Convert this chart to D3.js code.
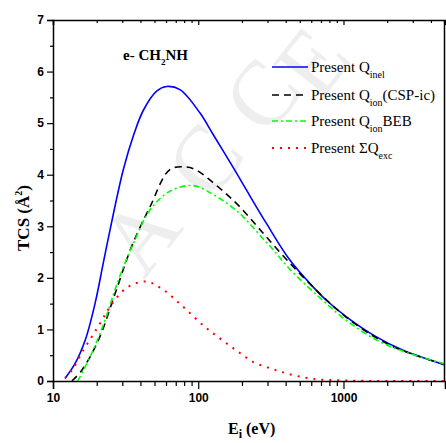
<!DOCTYPE html>
<html>
<head>
<meta charset="utf-8">
<script src="https://cdn.jsdelivr.net/npm/d3@7"></script>
<style>
  body { margin: 0; background: #fff; }
  svg { display: block; }
</style>
</head>
<body>
<svg id="chart" width="446" height="443"></svg>
<script>
// data
const inelE = [12.1, 14.2, 16.7, 19.5, 22.2, 24.7, 30.5, 36, 41.9, 51.7, 60.5, 74.8, 102.6, 126, 165, 214, 294, 426, 615, 759, 1042, 1675, 2550, 5000];
const inelV = [0.05, 0.34, 0.80, 1.51, 2.29, 2.93, 4.1, 4.78, 5.25, 5.62, 5.71, 5.65, 5.20, 4.79, 4.25, 3.71, 3.06, 2.35, 1.83, 1.57, 1.25, 0.86, 0.60, 0.31];

const cspE = [13.5, 15.8, 20.6, 26.8, 34.8, 46.6, 63.8, 83, 97, 126, 160, 193, 279, 426, 684, 1042, 1675, 2550, 5000];
const cspV = [0, 0.21, 0.80, 1.70, 2.61, 3.38, 4.10, 4.15, 4.09, 3.85, 3.60, 3.38, 2.87, 2.29, 1.70, 1.24, 0.84, 0.59, 0.32];

const bebE = [14.8, 18.5, 22.8, 28.2, 35.8, 46.6, 63.8, 92, 126, 160, 193, 226, 279, 327, 426, 684, 1042, 1675, 2550, 5000];
const bebV = [0, 0.54, 1.18, 1.96, 2.67, 3.32, 3.68, 3.79, 3.62, 3.43, 3.25, 3.05, 2.76, 2.55, 2.17, 1.62, 1.18, 0.80, 0.58, 0.33];

const excE = [12.1, 13.5, 16.2, 19.5, 22.8, 24.7, 29.8, 34.8, 44, 57.4, 78.7, 111, 145, 188, 238, 310, 404, 600, 1000, 2000, 5000];
const excV = [0.06, 0.21, 0.6, 0.96, 1.28, 1.44, 1.73, 1.86, 1.93, 1.77, 1.44, 1.05, 0.80, 0.57, 0.37, 0.25, 0.15, 0.045, 0.01, 0, 0];

const xTicks = [10, 100, 1000];
const yTicks = [0, 1, 2, 3, 4, 5, 6, 7];

const series = [
  { name: 'inel', sub: 'inel', tail: '', e: inelE, v: inelV, color: '#0000ff', dash: null },
  { name: 'csp', sub: 'ion', tail: '(CSP-ic)', e: cspE, v: cspV, color: '#000000', dash: '7,5' },
  { name: 'beb', sub: 'ion', tail: 'BEB', e: bebE, v: bebV, color: '#00ff00', dash: '6,3,2,3' },
  { name: 'exc', sub: 'exc', tail: '', e: excE, v: excV, color: '#ff0000', dash: '2,6' }
];

const svg = d3.select('#chart');
const margin = { left: 53, right: 1, top: 20, bottom: 62 };
const width = +svg.attr('width');
const height = +svg.attr('height');

const x = d3.scaleLog().domain([10, 5000]).range([margin.left, width - margin.right]);
const y = d3.scaleLinear().domain([0, 7]).range([height - margin.bottom, margin.top]);

// faint watermark, one letter at a time
const wm = [['A', 140, 235], ['C', 205, 160], ['C', 262, 95], ['E', 312, 62]];
svg.append('g').selectAll('text')
  .data(wm)
  .join('text')
  .attr('transform', d => `translate(${d[1]},${d[2]}) rotate(-52)`)
  .attr('text-anchor', 'middle')
  .attr('dominant-baseline', 'central')
  .attr('font-family', 'Liberation Serif, serif')
  .attr('font-size', 92)
  .attr('fill', '#eeeeee')
  .text(d => d[0]);

const plot = svg.append('g');

const line = d3.line()
  .x(d => x(d[0]))
  .y(d => y(d[1]))
  .curve(d3.curveCatmullRom.alpha(0.5));

series.forEach(s => {
  const pts = s.e.map((e, i) => [e, s.v[i]]);
  const p = plot.append('path')
    .datum(pts)
    .attr('fill', 'none')
    .attr('stroke', s.color)
    .attr('stroke-width', s.name === 'exc' ? 2 : 1.6)
    .attr('d', line);
  if (s.dash) p.attr('stroke-dasharray', s.dash);
});

// axes
const minorX = [];
[10, 100, 1000].forEach(d => {
  for (let k = 2; k <= 9; k++) if (d * k <= 5000) minorX.push(d * k);
});

svg.append('g')
  .attr('transform', `translate(0,${y(0)})`)
  .call(d3.axisBottom(x).tickValues(xTicks).tickFormat(d3.format('d')).tickSize(8).tickPadding(4));
svg.append('g')
  .attr('transform', `translate(0,${y(0)})`)
  .call(d3.axisBottom(x).tickValues(minorX).tickFormat('').tickSize(5))
  .select('.domain').remove();

svg.append('g')
  .attr('transform', `translate(${x(10)},0)`)
  .call(d3.axisLeft(y).tickValues(yTicks).tickFormat(d3.format('d')).tickSize(6).tickPadding(3));
svg.append('g')
  .attr('transform', `translate(${x(10)},0)`)
  .call(d3.axisLeft(y).tickValues(d3.range(0.5, 7, 1)).tickFormat('').tickSize(3))
  .select('.domain').remove();

// top and right mirror axes with inward ticks
svg.append('g')
  .attr('transform', `translate(0,${y(7)})`)
  .call(d3.axisBottom(x).tickValues(xTicks).tickFormat('').tickSizeOuter(0).tickSize(5));
svg.append('g')
  .attr('transform', `translate(0,${y(7)})`)
  .call(d3.axisBottom(x).tickValues(minorX).tickFormat('').tickSize(3))
  .select('.domain').remove();
svg.append('line')
  .attr('x1', width - margin.right - 0.5).attr('x2', width - margin.right - 0.5)
  .attr('y1', y(7)).attr('y2', y(0))
  .attr('stroke', '#000').attr('stroke-width', 1.5);

svg.selectAll('.domain').attr('stroke-width', 1.5);
svg.selectAll('.tick line').attr('stroke-width', 1.2);
svg.selectAll('.tick text')
  .attr('font-family', 'Liberation Sans, Arial, sans-serif')
  .attr('font-weight', 'bold')
  .attr('font-size', 12)
  .attr('fill', '#000');

// axis titles
const serif = 'Liberation Serif, Times New Roman, serif';
const xt = svg.append('text')
  .attr('x', 228).attr('y', 434)
  .attr('font-family', serif).attr('font-weight', 'bold').attr('font-size', 16);
xt.append('tspan').text('E');
xt.append('tspan').attr('font-size', 12).attr('dy', 4).text('i');
xt.append('tspan').attr('dy', -4).text(' (eV)');

const yt = svg.append('text')
  .attr('transform', 'translate(29,218) rotate(-90)')
  .attr('text-anchor', 'middle')
  .attr('font-family', serif).attr('font-weight', 'bold').attr('font-size', 17);
yt.append('tspan').text('TCS (Å');
yt.append('tspan').attr('font-size', 10).attr('dy', -7).text('2');
yt.append('tspan').attr('dy', 7).text(')');

// molecule label
const lab = svg.append('text')
  .attr('x', 123).attr('y', 60)
  .attr('font-family', serif).attr('font-weight', 'bold').attr('font-size', 15);
lab.append('tspan').text('e- CH');
lab.append('tspan').attr('font-size', 9).attr('dy', 5).text('2');
lab.append('tspan').attr('dy', -5).text('NH');

// legend
const legend = svg.append('g');
const rowY = [67, 95, 121, 148];
series.forEach((s, i) => {
  const ly = rowY[i];
  const l = legend.append('line')
    .attr('x1', 272).attr('x2', 308)
    .attr('y1', ly).attr('y2', ly)
    .attr('stroke', s.color)
    .attr('stroke-width', s.name === 'exc' ? 2 : 1.6);
  if (s.dash) l.attr('stroke-dasharray', s.dash);
  const t = legend.append('text')
    .attr('x', 311).attr('y', ly + 5)
    .attr('font-family', serif).attr('font-size', 15).attr('fill', '#000');
  t.append('tspan').text(s.name === 'exc' ? 'Present ΣQ' : 'Present Q');
  t.append('tspan').attr('font-size', 10).attr('dy', 6).text(s.sub);
  if (s.tail) t.append('tspan').attr('dy', -6).text(s.tail);
});
</script>
</body>
</html>
